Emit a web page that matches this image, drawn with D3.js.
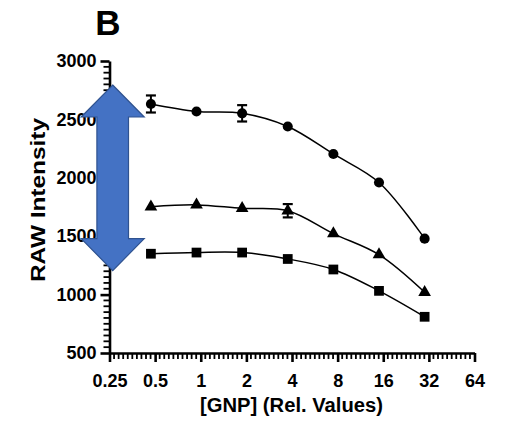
<!DOCTYPE html>
<html>
<head>
<meta charset="utf-8">
<script src="https://cdn.jsdelivr.net/npm/d3@7"></script>
<style>
  html, body { margin: 0; padding: 0; background: #fff; }
  svg { display: block; }
  text { font-family: "Liberation Sans", Arial, sans-serif; font-weight: bold; fill: #000; }
</style>
</head>
<body>
<svg id="chart" width="510" height="429"></svg>
<script>
// ---- data ----
const concentrations = [0.469, 0.9375, 1.875, 3.75, 7.5, 15, 30];
const circleValues   = [2632, 2568, 2552, 2439, 2204, 1960, 1479];
const triangleValues = [1752, 1768, 1738, 1718, 1522, 1342, 1020];
const squareValues   = [1350, 1360, 1360, 1305, 1215, 1032, 810];
const circleErrors   = [73, 0, 70, 0, 0, 0, 0];
const triangleErrors = [0, 0, 0, 57, 0, 0, 0];
const squareErrors   = [0, 0, 0, 0, 0, 0, 0];
const xTickValues = [0.25, 0.5, 1, 2, 4, 8, 16, 32, 64];
const xTickLabels = ["0.25", "0.5", "1", "2", "4", "8", "16", "32", "64"];
const yTickValues = [500, 1000, 1500, 2000, 2500, 3000];
const panelLabel = "B";
const xTitle = "[GNP] (Rel. Values)";
const yTitle = "RAW Intensity";

const svg = d3.select("#chart");

const xScale = d3.scaleLog().base(2).domain([0.25, 64]).range([109.5, 474.5]);
const yScale = d3.scaleLinear().domain([500, 3000]).range([353, 61]);

const xMinor = [];
for (let i = 0; i < xTickValues.length - 1; i++) {
  for (let k = 1; k < 10; k++) xMinor.push(xTickValues[i] * Math.pow(2, k / 10));
}
const yMinor = d3.range(550, 3000, 50).filter(v => v % 500 !== 0);

const axisX0 = xScale(0.25), axisY0 = yScale(500);

// minor ticks as small filled rects placed by the scales
const minorG = svg.append("g").attr("class", "minor");
minorG.selectAll("rect.mx").data(xMinor).join("rect").attr("class", "mx")
  .attr("x", d => xScale(d) - 0.9).attr("y", axisY0)
  .attr("width", 1.8).attr("height", 6)
  .attr("fill", "#000");
minorG.selectAll("rect.my").data(yMinor).join("rect").attr("class", "my")
  .attr("x", axisX0 - 6).attr("y", d => yScale(d) - 0.9)
  .attr("width", 6).attr("height", 1.8)
  .attr("fill", "#000");

// major axes
const xAxis = svg.append("g").attr("transform", `translate(0,${axisY0})`)
  .call(d3.axisBottom(xScale).tickValues(xTickValues).tickSize(9).tickSizeOuter(0).tickPadding(12)
    .tickFormat((d, i) => xTickLabels[i]));
xAxis.select(".domain").attr("stroke", "#000").attr("stroke-width", 2.6);
xAxis.selectAll(".tick line").attr("stroke", "#000").attr("stroke-width", 2.6);
xAxis.selectAll("text").style("font-size", "18px").style("font-weight", "bold")
  .style("font-family", "Liberation Sans, Arial, sans-serif");

const yAxis = svg.append("g").attr("transform", `translate(${axisX0},0)`)
  .call(d3.axisLeft(yScale).tickValues(yTickValues).tickSize(9).tickSizeOuter(0).tickPadding(4)
    .tickFormat(d3.format("d")));
yAxis.select(".domain").attr("stroke", "#000").attr("stroke-width", 2.6);
yAxis.selectAll(".tick line").attr("stroke", "#000").attr("stroke-width", 2.6);
yAxis.selectAll("text").style("font-size", "18px").style("font-weight", "bold")
  .style("font-family", "Liberation Sans, Arial, sans-serif");

// series
const series = [
  { values: circleValues, errors: circleErrors, shape: d3.symbolCircle, size: 80 },
  { values: triangleValues, errors: triangleErrors, shape: d3.symbolTriangle, size: 70 },
  { values: squareValues, errors: squareErrors, shape: d3.symbolSquare, size: 95 }
];

const curveGen = d3.line()
  .x(d => xScale(d.c))
  .y(d => yScale(d.v))
  .curve(d3.curveCatmullRom.alpha(0.5));

series.forEach(s => {
  const pts = concentrations.map((c, i) => ({ c, v: s.values[i], e: s.errors[i] }));
  svg.append("path").datum(pts)
    .attr("d", curveGen).attr("fill", "none").attr("stroke", "#000").attr("stroke-width", 1.5);

  const eb = svg.append("g");
  pts.filter(p => p.e > 0).forEach(p => {
    const cx = xScale(p.c);
    eb.append("line").attr("x1", cx).attr("x2", cx).attr("y1", yScale(p.v - p.e)).attr("y2", yScale(p.v + p.e))
      .attr("stroke", "#000").attr("stroke-width", 2);
    [p.v - p.e, p.v + p.e].forEach(v => {
      eb.append("line").attr("x1", cx - 5).attr("x2", cx + 5).attr("y1", yScale(v)).attr("y2", yScale(v))
        .attr("stroke", "#000").attr("stroke-width", 2.2);
    });
  });

  svg.append("g").selectAll("path").data(pts).join("path")
    .attr("d", d3.symbol().type(s.shape).size(s.size))
    .attr("transform", d => `translate(${xScale(d.c)},${yScale(d.v)})`)
    .attr("fill", "#000");
});

// titles
svg.append("text").attr("x", 108).attr("y", 35).attr("text-anchor", "middle")
  .style("font-size", "35px").text(panelLabel);
svg.append("text").attr("x", 291.5).attr("y", 412).attr("text-anchor", "middle")
  .attr("textLength", 183).attr("lengthAdjust", "spacingAndGlyphs")
  .style("font-size", "20px").text(xTitle);
svg.append("text").attr("transform", "translate(45,200) rotate(-90)").attr("text-anchor", "middle")
  .attr("textLength", 164).attr("lengthAdjust", "spacingAndGlyphs")
  .style("font-size", "21px").text(yTitle);

// blue double arrow (annotation)
const arrowX = 112.7, arrowTop = 85, arrowBottom = 270.7, headH = 32, headHalf = 31.5, shaftHalf = 15.8;
const arrowPts = [
  [arrowX, arrowTop], [arrowX + headHalf, arrowTop + headH], [arrowX + shaftHalf, arrowTop + headH],
  [arrowX + shaftHalf, arrowBottom - headH], [arrowX + headHalf, arrowBottom - headH], [arrowX, arrowBottom],
  [arrowX - headHalf, arrowBottom - headH], [arrowX - shaftHalf, arrowBottom - headH],
  [arrowX - shaftHalf, arrowTop + headH], [arrowX - headHalf, arrowTop + headH]
];
svg.append("path")
  .attr("d", d3.line()(arrowPts) + "Z")
  .attr("fill", "#4472C4").attr("stroke", "#2F528F").attr("stroke-width", 1.2);
</script>
</body>
</html>
